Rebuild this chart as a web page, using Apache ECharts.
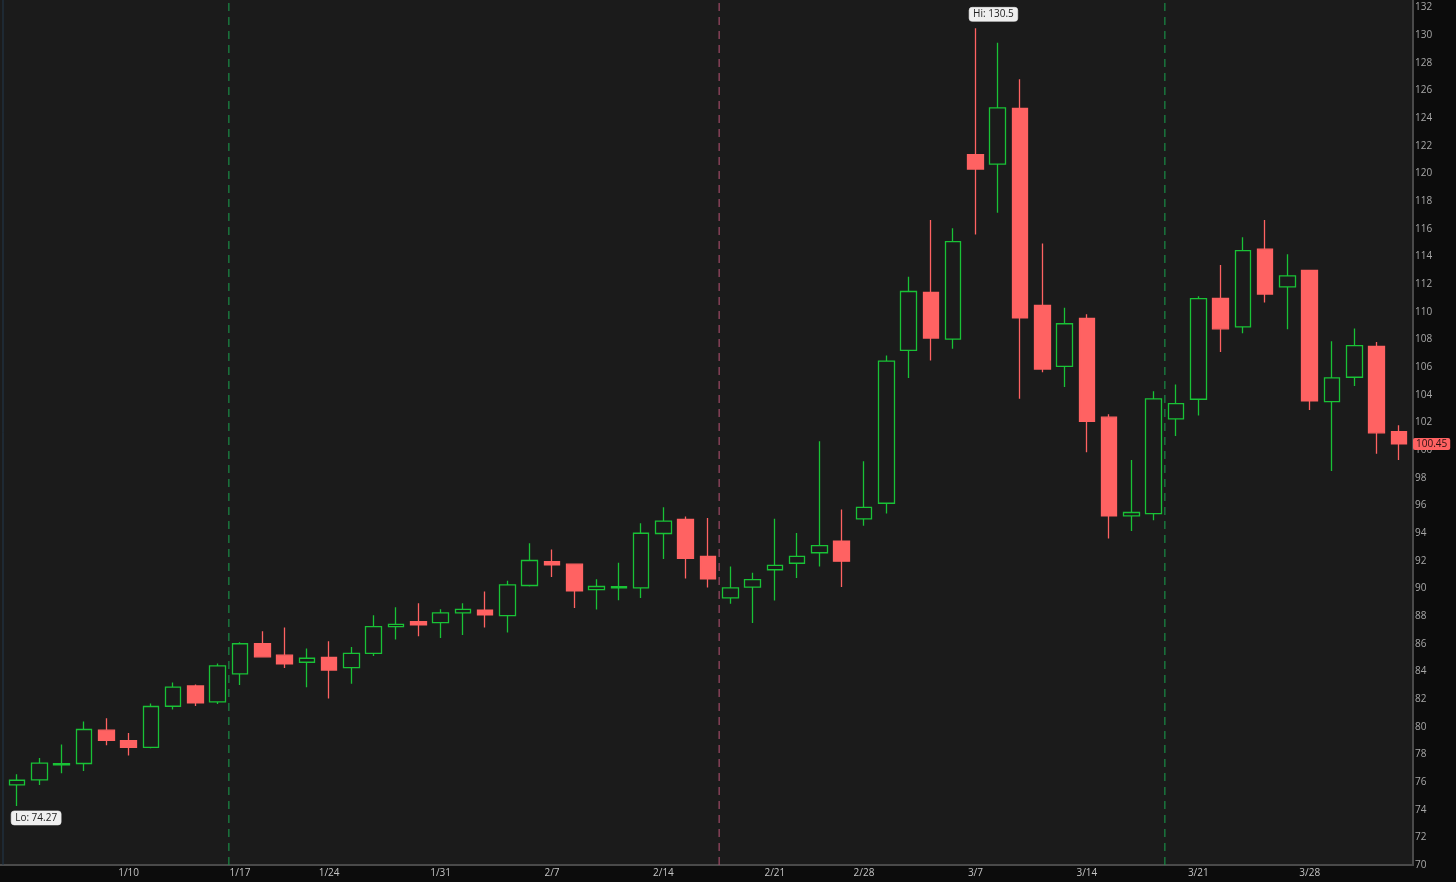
<!DOCTYPE html>
<html>
<head>
<meta charset="utf-8">
<script src="https://cdn.jsdelivr.net/npm/echarts@6/dist/echarts.min.js"></script>
<style>
html,body{margin:0;padding:0;background:#1b1b1b;}
#c{width:1456px;height:882px;}
</style>
</head>
<body>
<div id="c"></div>
<script>
const dates = ['1/3','1/4','1/5','1/6','1/7','1/10','1/11','1/12','1/13','1/14',
 '1/18','1/19','1/20','1/21','1/24','1/25','1/26','1/27','1/28','1/31',
 '2/1','2/2','2/3','2/4','2/7','2/8','2/9','2/10','2/11','2/14',
 '2/15','2/16','2/17','2/18','2/22','2/23','2/24','2/25','2/28','3/1',
 '3/2','3/3','3/4','3/7','3/8','3/9','3/10','3/11','3/14','3/15',
 '3/16','3/17','3/18','3/21','3/22','3/23','3/24','3/25','3/28','3/29',
 '3/30','3/31','4/1'];
const opens = [75.80,76.15,77.25,77.34,79.75,79.00,78.50,81.48,82.95,81.79,
 83.82,86.00,85.17,84.66,85.02,84.27,85.31,87.24,87.60,87.53,
 88.23,88.42,88.03,90.21,91.94,91.75,89.92,90.05,90.04,93.97,
 95.00,92.31,89.31,90.10,91.35,91.82,92.58,93.41,95.03,96.16,
 107.22,111.41,108.02,121.36,120.68,124.72,110.47,106.05,109.52,102.38,
 95.24,95.41,102.26,103.68,110.98,108.91,114.53,111.80,113.00,103.51,
 105.27,107.51,101.34];
const closes = [76.13,77.36,77.32,79.80,79.02,78.50,81.46,82.86,81.72,84.40,
 86.00,85.05,84.54,84.95,84.10,85.30,87.24,87.40,87.36,88.23,
 88.48,88.08,90.26,92.02,91.70,89.82,90.14,90.12,93.99,94.86,
 92.18,90.70,90.04,90.64,91.67,92.32,93.09,91.97,95.86,106.43,
 111.47,108.11,115.08,120.33,124.75,109.56,105.86,109.14,102.09,95.24,
 95.49,103.70,103.37,110.96,108.77,114.43,111.29,112.60,103.56,105.22,
 107.56,101.25,100.45];
const lows = [74.27,75.79,76.64,76.80,78.66,77.92,78.45,81.24,81.50,81.65,
 83.02,85.00,84.25,82.86,82.04,83.10,85.12,86.30,86.54,86.42,
 86.64,87.17,86.82,90.14,90.83,88.59,88.48,89.15,89.31,92.13,
 90.72,90.06,88.89,87.50,89.13,90.75,91.58,90.10,94.53,95.42,
 105.21,106.49,107.34,115.60,117.17,103.71,105.63,104.56,99.85,93.61,
 94.16,94.93,101.03,102.50,107.10,108.45,110.67,108.74,102.91,98.50,
 104.64,99.73,99.29];
const highs = [76.56,77.74,78.71,80.38,80.61,79.55,81.68,83.20,83.05,84.57,
 86.10,86.90,87.17,85.65,86.18,85.77,88.06,88.63,88.93,88.50,
 88.93,89.78,90.55,93.27,92.81,91.80,90.67,91.85,94.71,95.87,
 95.20,95.10,91.58,91.14,95.03,94.00,100.64,95.71,99.20,106.84,
 112.53,116.64,116.05,130.50,129.45,126.82,114.95,110.29,109.82,102.60,
 99.29,104.26,104.74,111.13,113.39,115.39,116.65,114.17,113.05,107.87,
 108.79,107.82,101.80];
const tickIndex = [5,10,14,19,24,29,34,38,43,48,53,58];
const tickText = ['1/10','1/17','1/24','1/31','2/7','2/14','2/21','2/28','3/7','3/14','3/21','3/28'];
const eventLinesGreen = [9.5, 51.5];
const eventLinesRed = [31.5];
const hiPoint = {index:43, value:130.5, text:'Hi: 130.5'};
const loPoint = {index:0, value:74.27, text:'Lo: 74.27'};
const lastPrice = 100.45;
const Y_MIN = 70, Y_MAX = 132.55;

const candleData = dates.map((d,i)=>[opens[i],closes[i],lows[i],highs[i]]);
const GREEN = '#19c236';
const RED = '#ff6262';
const FONT = '"Open Sans", "Noto Sans", sans-serif';

function vLine(x, color, offset){
  return {
    type:'line', xAxisIndex:1, silent:true, symbol:'none', z:1,
    data:[[x, Y_MIN],[x, Y_MAX]],
    lineStyle:{color:color, width:1.2, type:[8,6], dashOffset:offset},
    emphasis:{disabled:true}
  };
}

const chart = echarts.init(document.getElementById('c'));
chart.setOption({
  backgroundColor:'#1b1b1b',
  animation:false,
  graphic:[
    {type:'rect', z:-5, shape:{x:1413,y:0,width:43,height:866}, style:{fill:'#0c0c0c'}},
    {type:'rect', z:-5, shape:{x:0,y:866,width:1456,height:16}, style:{fill:'#0c0c0c'}},
    {type:'line', z:-4, shape:{x1:1413,y1:0,x2:1413,y2:866}, style:{stroke:'#4a4a4a',lineWidth:2}},
    {type:'line', z:-4, shape:{x1:0,y1:865,x2:1413,y2:865}, style:{stroke:'#4a4a4a',lineWidth:2}},
    {type:'line', z:-4, shape:{x1:3,y1:0,x2:3,y2:865}, style:{stroke:'#22384d',lineWidth:1}}
  ],
  grid:{left:6,right:46,top:0,bottom:17,containLabel:false,outerBoundsMode:'none'},
  xAxis:[{
    type:'category', data:dates, boundaryGap:true,
    axisLine:{show:false}, axisTick:{show:false}, splitLine:{show:false},
    axisLabel:{
      color:'#c4c4c4', fontSize:10, fontFamily:FONT, margin:3,
      interval:(idx)=>tickIndex.includes(idx),
      formatter:(val,idx)=>{const k=tickIndex.indexOf(idx);return k>=0?tickText[k]:'';}
    }
  },{
    type:'value', min:-0.5, max:62.5, show:false
  }],
  yAxis:{
    type:'value', position:'right', min:Y_MIN, max:Y_MAX, interval:2,
    axisLine:{show:false}, axisTick:{show:false}, splitLine:{show:false},
    axisLabel:{color:'#a8a8a8', fontSize:10, fontFamily:FONT, margin:5,
      formatter:(v)=> (Math.abs(v - Math.round(v)) < 1e-6 && Math.round(v)%2===0) ? String(Math.round(v)) : ''}
  },
  series: eventLinesGreen.map(x=>vLine(x,'#1a8e47',0))
    .concat(eventLinesRed.map(x=>vLine(x,'#a04a66',0)))
    .concat([{
    type:'candlestick', data:candleData, barWidth:16, z:2,
    itemStyle:{color:'#1b1b1b', color0:RED, borderColor:GREEN, borderColor0:RED, borderWidth:1.3},
    markPoint:{
      symbol:'circle', symbolSize:0, silent:true,
      label:{show:true, position:'inside', color:'#222', fontSize:10, fontFamily:FONT,
        backgroundColor:'#efefef', borderColor:'#999', borderWidth:0.5, borderRadius:3, padding:[2,4]},
      data:[
        {coord:[hiPoint.index, hiPoint.value], label:{formatter:hiPoint.text, offset:[18,-14]}},
        {coord:[loPoint.index, loPoint.value], label:{formatter:loPoint.text, offset:[19,12]}}
      ]
    },
    markLine:{
      silent:true, symbol:['none','none'],
      lineStyle:{color:'rgba(0,0,0,0)', width:0},
      label:{show:true, position:'end', distance:3, formatter:String(lastPrice), color:'#2a1010',
        backgroundColor:RED, padding:[1,3], borderRadius:2, fontSize:10, fontFamily:FONT},
      data:[{yAxis:lastPrice}]
    }
  }])
});
</script>
</body>
</html>
